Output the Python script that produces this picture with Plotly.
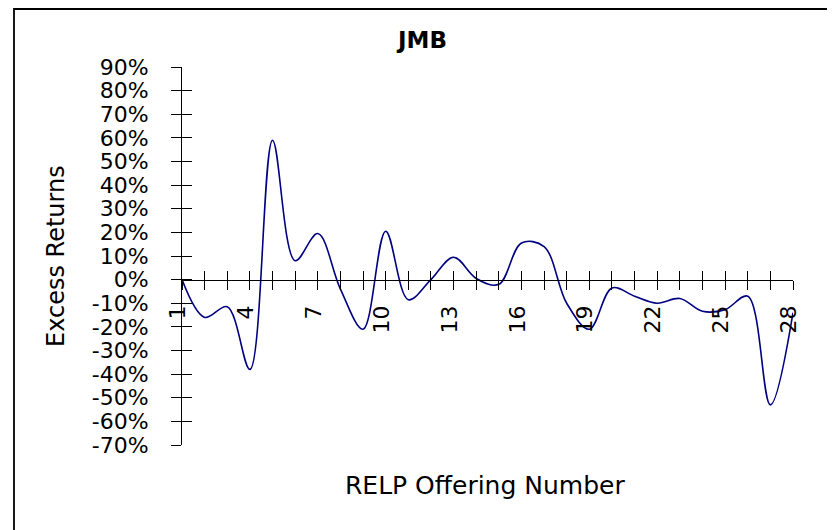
import plotly.graph_objects as go

# Datos (en %)
oferta = list(range(1, 29))
exceso = [0, -16, -11.5, -38, 59, 8, 19.5, -4, -21, 20.5,
          -8.5, 0, 9.5, 0.5, -2, 15.5, 14, -10, -21, -3.5,
          -7, -10, -8, -13.4, -12.7, -7, -53, -14]

etiquetas_x = [str(n) if (n - 1) % 3 == 0 else "" for n in oferta]
valores_y = list(range(-70, 100, 10))
etiquetas_y = [f"{v}%" for v in valores_y]

FUENTE = "DejaVu Sans, Arial, sans-serif"
# La página tiene 8 px de margen en el body: el lienzo se reduce en consecuencia
W, H = 827, 522
M_L, M_R, M_T, M_B = 174, 42, 59, 85
PW, PH = W - M_L - M_R, H - M_T - M_B
POS_EJE_X = 70 / 160  # posición de y=0 dentro del rango [-70, 90]


def px_x(px):
    return (px - 8 - M_L) / PW


def px_y(py):
    return 1 - (py - 8 - M_T) / PH


fig = go.Figure()

fig.add_trace(go.Scatter(
    x=oferta, y=exceso,
    mode="lines",
    line=dict(color="#000080", width=1.6, shape="spline", smoothing=1.0),
    showlegend=False,
    hoverinfo="skip",
))

# Traza invisible para activar los ejes superpuestos (marcas cruzadas)
fig.add_trace(go.Scatter(
    x=oferta, y=exceso, xaxis="x2", yaxis="y2",
    mode="markers", marker=dict(opacity=0),
    showlegend=False, hoverinfo="skip",
))

eje_x = dict(
    range=[1, 28],
    tickmode="array",
    tickvals=oferta,
    showgrid=False,
    zeroline=False,
    showline=True,
    linecolor="black",
    linewidth=1,
    tickcolor="black",
    ticklen=9,
    anchor="free",
    position=POS_EJE_X,
    automargin=False,
)
eje_y = dict(
    range=[-70, 90],
    tickmode="array",
    tickvals=valores_y,
    showgrid=False,
    zeroline=False,
    showline=True,
    linecolor="black",
    linewidth=1,
    tickcolor="black",
    ticklen=10,
    automargin=False,
)

fig.update_layout(
    width=W,
    height=H,
    autosize=False,
    paper_bgcolor="white",
    plot_bgcolor="white",
    margin=dict(l=M_L, r=M_R, t=M_T, b=M_B),
    font=dict(family=FUENTE, color="black"),
    xaxis=dict(
        eje_x,
        ticks="outside",
        ticktext=etiquetas_x,
        tickangle=-90,
        ticklabelstandoff=7,
        ticklabelshift=-4,
        tickfont=dict(size=22),
    ),
    xaxis2=dict(
        eje_x,
        overlaying="x",
        ticks="inside",
        showticklabels=False,
    ),
    yaxis=dict(
        eje_y,
        ticks="outside",
        ticktext=etiquetas_y,
        ticklabelstandoff=18,
        tickfont=dict(size=22),
    ),
    yaxis2=dict(
        eje_y,
        overlaying="y",
        anchor="x",
        ticks="inside",
        showticklabels=False,
    ),
    annotations=[
        dict(text="<b>JMB</b>", xref="paper", yref="paper",
             x=px_x(421), y=px_y(40),
             xanchor="center", yanchor="middle", showarrow=False,
             font=dict(size=23)),
        dict(text="RELP Offering Number", xref="paper", yref="paper",
             x=px_x(485), y=px_y(486),
             xanchor="center", yanchor="middle", showarrow=False,
             font=dict(size=25)),
        dict(text="Excess Returns", xref="paper", yref="paper", textangle=-90,
             x=px_x(56), y=px_y(256),
             xanchor="center", yanchor="middle", showarrow=False,
             font=dict(size=24)),
    ],
    shapes=[
        dict(type="rect", xref="paper", yref="paper",
             x0=px_x(14), x1=1.3, y0=-0.4, y1=1 + (M_T - 1) / PH,
             line=dict(color="black", width=1.8), layer="below"),
    ],
)

fig.write_html("out.html")
